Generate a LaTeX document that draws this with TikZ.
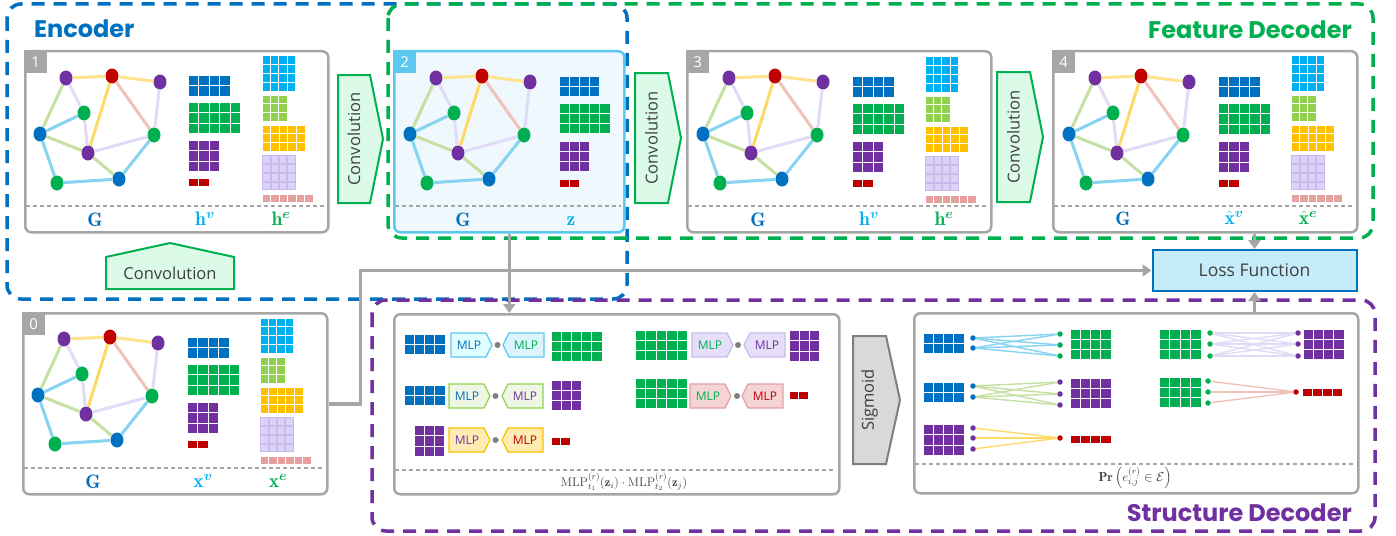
\RequirePackage{fix-cm}
\documentclass[tikz,border=0pt]{standalone}
\usepackage{fontspec}
\usepackage{amsmath,bm}
\setsansfont{Open Sans}
\newfontfamily\titlefont{Poppins}
\usetikzlibrary{arrows.meta,shapes.geometric}
\definecolor{cblue}{HTML}{0070C0}
\definecolor{clblue}{HTML}{00B0F0}
\definecolor{cgreen}{HTML}{00B050}
\definecolor{cpurple}{HTML}{7030A0}
\definecolor{cred}{HTML}{C00000}
\definecolor{clgreen}{HTML}{92D050}
\definecolor{cyellow}{HTML}{FFC000}
\definecolor{clav}{HTML}{DDD2F8}
\definecolor{clavb}{HTML}{C9BBEE}
\definecolor{cpink}{HTML}{E6A0A0}
\definecolor{cgray}{HTML}{A6A6A6}
\definecolor{dgray}{HTML}{404040}
\definecolor{dotgray}{HTML}{7F7F7F}
\definecolor{eyel}{HTML}{FFE38F}
\definecolor{eyel2}{HTML}{FFD966}
\definecolor{epink}{HTML}{F0C2BA}
\definecolor{elav}{HTML}{E2DBF7}
\definecolor{elgr}{HTML}{C6E0A4}
\definecolor{elbl}{HTML}{86D3F2}
\definecolor{convfill}{HTML}{DBFBE8}
\definecolor{p2fill}{HTML}{EEF8FD}
\definecolor{p2line}{HTML}{5BC8F0}
\definecolor{lossfill}{HTML}{C5ECFB}
\tikzset{
  grpbox/.style={line width=3.5pt, dash pattern=on 13pt off 9pt, rounded corners=14pt},
  ttl/.style={font=\titlefont\bfseries\fontsize{24}{26}\selectfont, anchor=west, inner sep=0pt},
  panelbox/.style={draw=cgray, line width=2.5pt, rounded corners=6pt, fill=white, anchor=north west, inner sep=0pt},
  tabbox/.style={fill=cgray, text=white, font=\sffamily\fontsize{15}{15}\selectfont, minimum width=23pt, minimum height=23pt, inner sep=0pt, anchor=north west},
  sepl/.style={draw=cgray, line width=1.3pt, dash pattern=on 4pt off 3pt},
  lbl/.style={font=\fontsize{19.5}{20}\selectfont, inner sep=0pt},
  conv/.style={draw=cgreen, fill=convfill, line width=2pt, line join=miter},
  convtxt/.style={font=\sffamily\fontsize{16.5}{17}\selectfont, text=dgray, inner sep=0pt},
  gn/.style={ellipse, minimum width=13pt, minimum height=15pt, inner sep=0pt},
  ge/.style={line width=3pt},
  conn/.style={draw=cgray, line width=3.5pt, -{Triangle[length=9pt,width=12pt]}},
  mlptxt/.style={font=\sffamily\fontsize{12}{12}\selectfont, inner sep=0pt},
  mdot/.style={circle, fill=dotgray, minimum size=6pt, inner sep=0pt},
  sd/.style={circle, minimum size=5.5pt, inner sep=0pt},
  se/.style={line width=1.4pt},
  cB/.style={fill=cblue}, cG/.style={fill=cgreen}, cP/.style={fill=cpurple}, cR/.style={fill=cred},
  cLB/.style={fill=clblue}, cLG/.style={fill=clgreen}, cY/.style={fill=cyellow},
  cLav/.style={fill=clav, draw=clavb, line width=0.5pt}, cPk/.style={fill=cpink},
}
\newcommand\cells[7]{%
 \foreach \ci in {1,...,#3}{\foreach \cj in {1,...,#4}{%
   \path[#7] ({#1+(\ci-1)*#5+0.5},{#2+(\cj-1)*#6+0.5}) rectangle ++({#5-1},{#6-1});
 }}}
\newcommand\hvm[3]{%
 \cells{#1}{#2}{4}{2}{#3}{#3}{cB}
 \cells{#1}{#2+27}{5}{3}{#3}{#3}{cG}
 \cells{#1}{#2+65}{3}{3}{#3}{#3}{cP}
 \cells{#1}{#2+103}{2}{1}{#3}{8.5}{cR}}
\newcommand\hem[2]{%
 \cells{#1}{#2}{4}{4}{8.4}{8.75}{cLB}
 \cells{#1}{#2+39}{3}{3}{8.4}{8.7}{cLG}
 \cells{#1}{#2+69}{5}{3}{8.6}{8.7}{cY}
 \cells{#1}{#2+99}{4}{4}{8.4}{8.75}{cLav}
 \cells{#1}{#2+138}{6}{1}{8.5}{8}{cPk}}
\newcommand\gph[3]{%
\begin{scope}[shift={(#2,#3)}]
 \node[gn,fill=cpurple] (#1a) at (42,28) {};
 \node[gn,fill=cred]    (#1b) at (88,26) {};
 \node[gn,fill=cpurple] (#1c) at (136,32) {};
 \node[gn,fill=cgreen]  (#1d) at (60,63) {};
 \node[gn,fill=cblue]   (#1e) at (16,84) {};
 \node[gn,fill=cgreen]  (#1f) at (130,85) {};
 \node[gn,fill=cpurple] (#1g) at (64,103) {};
 \node[gn,fill=cgreen]  (#1h) at (33,133) {};
 \node[gn,fill=cblue]   (#1i) at (95,129) {};
 \draw[ge,eyel] (#1a) -- (#1b);
 \draw[ge,eyel] (#1b) -- (#1c);
 \draw[ge,eyel2] (#1b) -- (#1g);
 \draw[ge,epink] (#1b) -- (#1f);
 \draw[ge,elav] (#1c) -- (#1f);
 \draw[ge,elgr] (#1a) -- (#1e);
 \draw[ge,elav] (#1a) -- (#1d);
 \draw[ge,elav] (#1d) -- (#1g);
 \draw[ge,elbl] (#1d) -- (#1e);
 \draw[ge,elgr] (#1e) -- (#1g);
 \draw[ge,elav] (#1g) -- (#1f);
 \draw[ge,elgr] (#1g) -- (#1i);
 \draw[ge,elbl] (#1e) -- (#1h);
 \draw[ge,elbl] (#1h) -- (#1i);
 \draw[ge,elbl] (#1i) -- (#1f);
\end{scope}}
\newcommand\mlpR[6]{%
 \draw[fill=#3,draw=#4,line width=1.3pt] (#1,{#2-12}) -- ({#1+35},{#2-12}) -- ({#1+41},#2) -- ({#1+35},{#2+12}) -- (#1,{#2+12}) -- cycle;
 \node[mlptxt,text=#5] (#6) at ({#1+18},#2) {MLP};}
\newcommand\mlpL[6]{%
 \draw[fill=#3,draw=#4,line width=1.3pt] (#1,#2) -- ({#1+6},{#2-12}) -- ({#1+41},{#2-12}) -- ({#1+41},{#2+12}) -- ({#1+6},{#2+12}) -- cycle;
 \node[mlptxt,text=#5] (#6) at ({#1+23},#2) {MLP};}
\begin{document}
\begin{tikzpicture}[x=1pt,y=-1pt]
\useasboundingbox[fill=white] (0,0) rectangle (1396,535);
% group boxes
\draw[grpbox, draw=cblue] (7,4) rectangle (627,299);
\draw[grpbox, draw=cpurple] (372,300) rectangle (1375,531);
\draw[grpbox, draw=cgreen] (388,4) rectangle (1373,238);
\node[ttl, text=cblue] (tenc) at (34,29) {Encoder};
\node[ttl, text=cgreen, anchor=east] (tfd) at (1352,30) {Feature Decoder};
\node[ttl, text=cpurple, anchor=east] (tsd) at (1352,513) {Structure Decoder};
% panels
\node[panelbox, minimum width=303pt, minimum height=181pt] (p1) at (24,50) {};
\node[panelbox, minimum width=230pt, minimum height=181pt, draw=p2line, fill=p2fill] (p2) at (393,50) {};
\node[panelbox, minimum width=304pt, minimum height=181pt] (p3) at (686,50) {};
\node[panelbox, minimum width=304pt, minimum height=181pt] (p4) at (1052,50) {};
\node[panelbox, minimum width=304pt, minimum height=181pt] (p0) at (22,312) {};
\node[panelbox, minimum width=445pt, minimum height=180pt] (mlp) at (393,313) {};
\node[panelbox, minimum width=444pt, minimum height=180pt] (sig) at (913,312) {};
\node[draw=cblue, fill=lossfill, line width=2pt, minimum width=204pt, minimum height=41pt, inner sep=0pt, font=\sffamily\fontsize{17.5}{18}\selectfont, text=dgray] (loss) at (1254.5,270.5) {Loss Function};
% tabs
\node[tabbox] (t1) at (24,50) {1};
\node[tabbox, fill=p2line] (t2) at (393,50) {2};
\node[tabbox] (t3) at (686,50) {3};
\node[tabbox] (t4) at (1052,50) {4};
\node[tabbox] (t0) at (22,312) {0};
% separators
\draw[sepl] (26,206) -- (325,206);
\draw[sepl] (395,206) -- (621,206);
\draw[sepl] (688,206) -- (988,206);
\draw[sepl] (1054,206) -- (1354,206);
\draw[sepl] (24,468) -- (324,468);
\draw[sepl] (395,470) -- (836,470);
\draw[sepl] (915,464) -- (1355,464);
% connectors
\draw[conn] (p2.south) -- (p2.south |- mlp.north);
\draw[conn] (p0.east) -- ++(32,0) |- (loss.west);
\draw[conn] (loss.north |- p4.south) -- (loss.north);
\draw[conn] (loss.south |- sig.north) -- (loss.south);
% convolution arrows
\draw[conv] (338,75) -- (370,75) -- (383,139) -- (370,203) -- (338,203) -- cycle;
\node[convtxt, rotate=90] (cv1) at (354,139) {Convolution};
\draw[conv] (635,73) -- (668,73) -- (681,138) -- (668,203) -- (635,203) -- cycle;
\node[convtxt, rotate=90] (cv2) at (651.5,138) {Convolution};
\draw[conv] (997,72) -- (1030,72) -- (1043,137) -- (1030,202) -- (997,202) -- cycle;
\node[convtxt, rotate=90] (cv3) at (1013.5,137) {Convolution};
\draw[conv] (106,289) -- (106,257) -- (170,243) -- (234,257) -- (234,289) -- cycle;
\node[convtxt] (cv0) at (170,273) {Convolution};
\draw[draw=dotgray, fill=black!15, line width=2pt] (853,336) -- (886,336) -- (900,400) -- (886,464) -- (853,464) -- cycle;
\node[convtxt, rotate=90] (sgm) at (869.5,400) {Sigmoid};
% graphs
\gph{ga}{24}{50}
\gph{gb}{394}{50}
\gph{gc}{687}{50}
\gph{gd}{1053}{50}
\gph{ge}{22}{311}
% matrices
\hvm{188}{75}{10.5}
\hem{262}{56}
\hvm{559}{76}{10.2}
\hvm{852}{76}{10.5}
\hem{925}{57}
\hvm{1218}{76}{10.5}
\hem{1291}{56}
\hvm{187}{337}{10.5}
\hem{260}{318}
% labels
\node[lbl,text=cblue] (l1a) at (95,220) {$\mathbf{G}$};
\node[lbl,text=clblue] (l1b) at (205,219) {$\mathbf{h}^{\bm{v}}$};
\node[lbl,text=cgreen] (l1c) at (281,219) {$\mathbf{h}^{\bm{e}}$};
\node[lbl,text=cblue] (l2a) at (463,220) {$\mathbf{G}$};
\node[lbl,text=clblue] (l2b) at (571,221) {$\mathbf{z}$};
\node[lbl,text=cblue] (l3a) at (758,220) {$\mathbf{G}$};
\node[lbl,text=clblue] (l3b) at (869,219) {$\mathbf{h}^{\bm{v}}$};
\node[lbl,text=cgreen] (l3c) at (944,219) {$\mathbf{h}^{\bm{e}}$};
\node[lbl,text=cblue] (l4a) at (1123,219) {$\mathbf{G}$};
\node[lbl,text=clblue] (l4b) at (1234,218) {$\hat{\mathbf{x}}^{\bm{v}}$};
\node[lbl,text=cgreen] (l4c) at (1308,218) {$\hat{\mathbf{x}}^{\bm{e}}$};
\node[lbl,text=cblue] (l0a) at (93,482) {$\mathbf{G}$};
\node[lbl,text=clblue] (l0b) at (203,481) {$\mathbf{x}^{\bm{v}}$};
\node[lbl,text=cgreen] (l0c) at (278,481) {$\mathbf{x}^{\bm{e}}$};
\node[font=\fontsize{12.5}{13}\selectfont, text=dgray] (fm) at (624,482) {$\mathrm{MLP}_{t_1}^{(r)}(\mathbf{z}_i)\cdot\mathrm{MLP}_{t_2}^{(r)}(\mathbf{z}_j)$};
\node[font=\fontsize{13}{13}\selectfont, text=dgray] (fp) at (1135,478) {$\mathbf{Pr}\left(e_{i,j}^{(r)}\in\mathcal{E}\right)$};
% MLP panel
\cells{404}{334}{4}{2}{10.3}{10.3}{cB}
\mlpR{451}{345}{blue!8!cyan!12}{p2line}{cblue}{m1a}
\node[mdot] (d1) at (497.5,345) {};
\mlpL{503}{345}{cyan!14}{p2line}{cgreen}{m1b}
\cells{551}{331}{5}{3}{10.2}{10.2}{cG}
\cells{404}{385}{4}{2}{10.3}{10.3}{cB}
\mlpR{449}{396}{clgreen!16}{clgreen}{cblue}{m2a}
\node[mdot] (d2) at (495.5,396) {};
\mlpL{502}{396}{clgreen!16}{clgreen}{cpurple}{m2b}
\cells{551}{380}{3}{3}{10.3}{10.3}{cP}
\cells{414}{425}{3}{3}{10.3}{10.5}{cP}
\mlpR{449}{440}{cyellow!30}{cyellow}{cpurple}{m3a}
\node[mdot] (d3) at (495.5,440) {};
\mlpL{502}{440}{cyellow!30}{cyellow}{cred}{m3b}
\cells{551}{437}{2}{1}{9.5}{8.5}{cR}
\cells{635}{330}{5}{3}{10.5}{10.3}{cG}
\mlpR{692}{345}{clav!70}{clavb}{cgreen}{m4a}
\node[mdot] (d4) at (738,345) {};
\mlpL{744}{345}{clav!70}{clavb}{cpurple}{m4b}
\cells{789}{330}{3}{3}{10.3}{10.5}{cP}
\cells{635}{378}{5}{3}{10.5}{10.3}{cG}
\mlpR{690}{396}{cpink!45}{cpink}{cgreen}{m5a}
\node[mdot] (d5) at (737,396) {};
\mlpL{742}{396}{cpink!45}{cpink}{cred}{m5b}
\cells{789}{391}{2}{1}{9.5}{8.5}{cR}
% Sigmoid panel
\cells{923}{333}{4}{2}{10.3}{10.3}{cB}
\cells{1070}{329}{4}{3}{10.3}{10.3}{cG}
\node[sd,fill=cblue] (s1a) at (973,338) {};
\node[sd,fill=cblue] (s1b) at (973,348) {};
\node[sd,fill=cgreen] (s1c) at (1060,334) {};
\node[sd,fill=cgreen] (s1d) at (1060,345) {};
\node[sd,fill=cgreen] (s1e) at (1060,356) {};
\foreach \a in {s1a,s1b}{\foreach \b in {s1c,s1d,s1e}{\draw[se,elbl] (\a) -- (\b);}}
\cells{923}{382}{4}{2}{10.3}{10.3}{cB}
\cells{1070}{378}{4}{3}{10.3}{10.3}{cP}
\node[sd,fill=cblue] (s2a) at (973,386) {};
\node[sd,fill=cblue] (s2b) at (973,397) {};
\node[sd,fill=cpurple] (s2c) at (1060,382) {};
\node[sd,fill=cpurple] (s2d) at (1060,394) {};
\node[sd,fill=cpurple] (s2e) at (1060,405) {};
\foreach \a in {s2a,s2b}{\foreach \b in {s2c,s2d,s2e}{\draw[se,elgr] (\a) -- (\b);}}
\cells{923}{424}{4}{3}{10.3}{10.5}{cP}
\cells{1070}{435}{4}{1}{10.3}{8.5}{cR}
\node[sd,fill=cpurple] (s3a) at (973,428) {};
\node[sd,fill=cpurple] (s3b) at (973,438) {};
\node[sd,fill=cpurple] (s3c) at (973,449) {};
\node[sd,fill=cred] (s3d) at (1060,438) {};
\foreach \a in {s3a,s3b,s3c}{\draw[se,eyel2] (\a) -- (s3d);}
\cells{1159}{329}{4}{3}{10.5}{10.3}{cG}
\cells{1303}{329}{4}{3}{10.3}{10.3}{cP}
\node[sd,fill=cgreen] (s4a) at (1210,333) {};
\node[sd,fill=cgreen] (s4b) at (1210,344) {};
\node[sd,fill=cgreen] (s4c) at (1210,356) {};
\node[sd,fill=cpurple] (s4d) at (1298,333) {};
\node[sd,fill=cpurple] (s4e) at (1298,344) {};
\node[sd,fill=cpurple] (s4f) at (1298,356) {};
\foreach \a in {s4a,s4b,s4c}{\foreach \b in {s4d,s4e,s4f}{\draw[se,elav] (\a) -- (\b);}}
\cells{1159}{377}{4}{3}{10.5}{10.3}{cG}
\cells{1302}{388}{4}{1}{10.2}{8.5}{cR}
\node[sd,fill=cgreen] (s5a) at (1208,381) {};
\node[sd,fill=cgreen] (s5b) at (1208,392) {};
\node[sd,fill=cgreen] (s5c) at (1208,403) {};
\node[sd,fill=cred] (s5d) at (1296,392) {};
\foreach \a in {s5a,s5b,s5c}{\draw[se,epink] (\a) -- (s5d);}
\end{tikzpicture}
\end{document}
